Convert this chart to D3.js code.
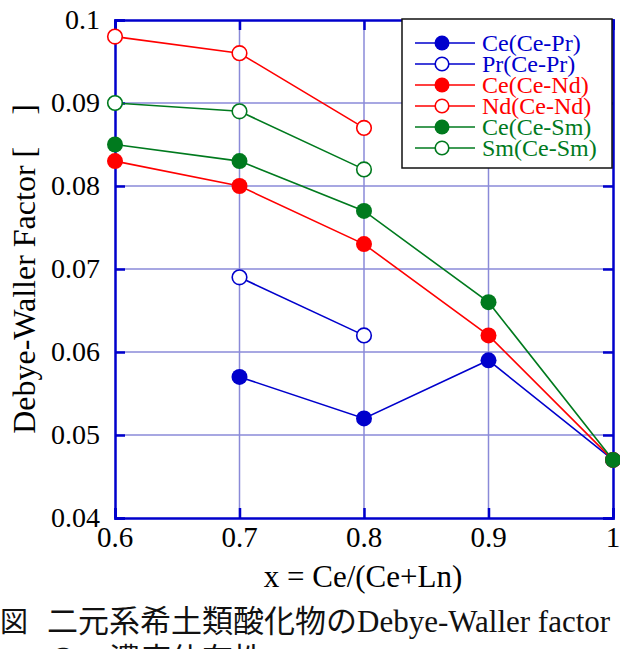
<!DOCTYPE html>
<html><head><meta charset="utf-8">
<script src="https://cdn.jsdelivr.net/npm/d3@7"></script>
<style>body{margin:0;background:#fff}svg{display:block}</style>
</head><body>
<svg id="c" width="620" height="649"></svg>
<script>
const xTicks = [0.6, 0.7, 0.8, 0.9, 1.0];
const xTickLabels = ["0.6", "0.7", "0.8", "0.9", "1"];
const yTicks = [0.04, 0.05, 0.06, 0.07, 0.08, 0.09, 0.1];
const yTickLabels = ["0.04", "0.05", "0.06", "0.07", "0.08", "0.09", "0.1"];

const seriesNames = ["Ce(Ce-Pr)", "Pr(Ce-Pr)", "Ce(Ce-Nd)", "Nd(Ce-Nd)", "Ce(Ce-Sm)", "Sm(Ce-Sm)"];
const seriesColors = ["#0000cc", "#0000cc", "#ff0000", "#ff0000", "#007a1e", "#007a1e"];
const seriesFilled = [true, false, true, false, true, false];
const ceCePrX = [0.7, 0.8, 0.9, 1.0];
const ceCePrY = [0.057, 0.052, 0.059, 0.047];
const prCePrX = [0.7, 0.8];
const prCePrY = [0.069, 0.062];
const ceCeNdX = [0.6, 0.7, 0.8, 0.9, 1.0];
const ceCeNdY = [0.083, 0.080, 0.073, 0.062, 0.047];
const ndCeNdX = [0.6, 0.7, 0.8];
const ndCeNdY = [0.098, 0.096, 0.087];
const ceCeSmX = [0.6, 0.7, 0.8, 0.9, 1.0];
const ceCeSmY = [0.085, 0.083, 0.077, 0.066, 0.047];
const smCeSmX = [0.6, 0.7, 0.8];
const smCeSmY = [0.090, 0.089, 0.082];
const seriesX = [ceCePrX, prCePrX, ceCeNdX, ndCeNdX, ceCeSmX, smCeSmX];
const seriesY = [ceCePrY, prCePrY, ceCeNdY, ndCeNdY, ceCeSmY, smCeSmY];

const xTitle = "x = Ce/(Ce+Ln)";
const yTitle = "Debye-Waller Factor [\u3000]";
const captionFig = "図";
const captionJa1 = "二元系希土類酸化物の";
const captionEn1 = "Debye-Waller factor";
const captionJa2 = "の\u3000濃度依存性";

const L = 115, R = 613, T = 20, B = 518;
const x = d3.scaleLinear().domain([0.6, 1.0]).range([L, R]);
const y = d3.scaleLinear().domain([0.04, 0.1]).range([B, T]);
const svg = d3.select("#c");
const serif = "'Liberation Serif','Times New Roman',serif";
const cjk = "'Noto Sans CJK JP','Noto Sans CJK SC',sans-serif";
const frameColor = "#0000cc", gridColor = "#8a8ad8";

// grid
const g = svg.append("g");
g.selectAll(".gx").data(xTicks.slice(1, -1)).enter().append("line")
  .attr("x1", d => x(d)).attr("x2", d => x(d)).attr("y1", T).attr("y2", B)
  .attr("stroke", gridColor).attr("stroke-width", 1.5);
g.selectAll(".gy").data(yTicks.slice(1, -1)).enter().append("line")
  .attr("y1", d => y(d)).attr("y2", d => y(d)).attr("x1", L).attr("x2", R)
  .attr("stroke", gridColor).attr("stroke-width", 1.5);

// axes with inward ticks
const axL = d3.axisLeft(y).tickValues(yTicks).tickSize(-10).tickFormat("");
const axR = d3.axisRight(y).tickValues(yTicks).tickSize(-10).tickFormat("");
const axB = d3.axisBottom(x).tickValues(xTicks).tickSize(-10).tickFormat("");
const axT = d3.axisTop(x).tickValues(xTicks).tickSize(-10).tickFormat("");
[[axL, `translate(${L},0)`], [axR, `translate(${R},0)`], [axB, `translate(0,${B})`], [axT, `translate(0,${T})`]].forEach(([ax, tr]) => {
  const a = svg.append("g").attr("transform", tr).call(ax);
  a.select(".domain").attr("stroke", frameColor).attr("stroke-width", 2.5);
  a.selectAll(".tick line").attr("stroke", frameColor).attr("stroke-width", 2.5);
});

// tick labels
svg.selectAll(".yl").data(yTicks).enter().append("text")
  .attr("x", 100).attr("y", d => y(d) + 9).attr("text-anchor", "end")
  .attr("font-family", serif).attr("font-size", 28).attr("fill", "#000")
  .text((d, i) => yTickLabels[i]);
svg.selectAll(".xl").data(xTicks).enter().append("text")
  .attr("x", d => x(d)).attr("y", 547).attr("text-anchor", "middle")
  .attr("font-family", serif).attr("font-size", 29).attr("fill", "#000")
  .text((d, i) => xTickLabels[i]);

// titles
svg.append("text").attr("x", 363).attr("y", 587).attr("text-anchor", "middle")
  .attr("font-family", serif).attr("font-size", 31).text(xTitle);
svg.append("text").attr("transform", "translate(35,269) rotate(-90)").attr("text-anchor", "middle")
  .attr("font-family", serif).attr("font-size", 32).text(yTitle);

// series
const line = d3.line().x(d => x(d[0])).y(d => y(d[1]));
seriesNames.forEach((name, i) => {
  const pts = seriesX[i].map((v, j) => [v, seriesY[i][j]]);
  svg.append("path").datum(pts).attr("d", line).attr("fill", "none")
    .attr("stroke", seriesColors[i]).attr("stroke-width", 1.6);
});
seriesNames.forEach((name, i) => {
  const pts = seriesX[i].map((v, j) => [v, seriesY[i][j]]);
  svg.append("g").selectAll("circle").data(pts).enter().append("circle")
    .attr("cx", d => x(d[0])).attr("cy", d => y(d[1])).attr("r", seriesFilled[i] ? 8 : 7.3)
    .attr("fill", seriesFilled[i] ? seriesColors[i] : "#fff")
    .attr("stroke", seriesColors[i]).attr("stroke-width", seriesFilled[i] ? 0 : 1.6);
});

// legend
const lg = svg.append("g");
lg.append("rect").attr("x", 402).attr("y", 19).attr("width", 210).attr("height", 149)
  .attr("fill", "#fff").attr("stroke", "#111").attr("stroke-width", 1.5);
seriesNames.forEach((name, i) => {
  const yy = 43 + i * 21;
  lg.append("line").attr("x1", 415).attr("x2", 475).attr("y1", yy).attr("y2", yy)
    .attr("stroke", seriesColors[i]).attr("stroke-width", 1.6);
  lg.append("circle").attr("cx", 442).attr("cy", yy).attr("r", seriesFilled[i] ? 7.5 : 6.8)
    .attr("fill", seriesFilled[i] ? seriesColors[i] : "#fff")
    .attr("stroke", seriesColors[i]).attr("stroke-width", seriesFilled[i] ? 0 : 1.6);
  lg.append("text").attr("x", 482).attr("y", yy + 8).attr("font-family", serif)
    .attr("font-size", 24).attr("fill", seriesColors[i]).text(name);
});

// caption
svg.append("text").attr("x", 0).attr("y", 632).attr("font-size", 28).attr("fill", "#111")
  .attr("font-family", cjk).text(captionFig);
const cap = svg.append("text").attr("x", 47).attr("y", 632).attr("fill", "#111");
cap.append("tspan").attr("font-family", cjk).attr("font-size", 31).text(captionJa1);
cap.append("tspan").attr("font-family", serif).attr("font-size", 31).text(captionEn1);
svg.append("text").attr("x", 47).attr("y", 670).attr("font-size", 31).attr("fill", "#111")
  .attr("font-family", cjk).text(captionJa2);
</script>
</body></html>
